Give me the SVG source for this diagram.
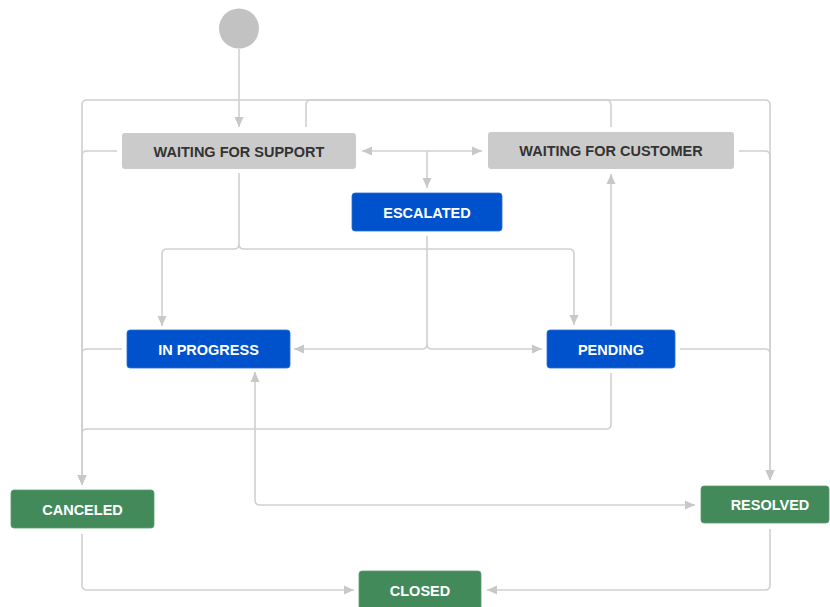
<svg xmlns="http://www.w3.org/2000/svg" width="830" height="607" viewBox="0 0 830 607">
<style>
  .bg{fill:#ffffff}
  .conn{fill:none;stroke:#d0d0d0;stroke-width:1.6}
  .gray rect{fill:#cbcbcb}
  .blue rect{fill:#0052cc;stroke:#2a6fd8;stroke-width:0.8}
  .green rect{fill:#438a5b;stroke:#5a9c70;stroke-width:0.8}
  text{font-family:"Liberation Sans",Arial,sans-serif;font-weight:bold;font-size:14.5px;text-anchor:middle}
  .gray text{fill:#333333}
  .blue text,.green text{fill:#ffffff}
</style>
<defs>
  <marker id="ah" viewBox="0 0 10 10" refX="10" refY="5" markerWidth="10" markerHeight="10" markerUnits="userSpaceOnUse" orient="auto-start-reverse">
    <path d="M0,0.5 L10,5 L0,9.5 z" fill="#c8c8c8"/>
  </marker>
</defs>
<rect class="bg" x="0" y="0" width="830" height="607"/>
<g id="connectors">
  <path class="conn" d="M239,49 L239,127" marker-end="url(#ah)"/>
  <path class="conn" d="M362,151 L482,151" marker-start="url(#ah)" marker-end="url(#ah)"/>
  <path class="conn" d="M427,151 L427,188" marker-end="url(#ah)"/>
  <path class="conn" d="M239,173 L239,244 Q239,249 234,249 L167,249 Q162,249 162,254 L162,326" marker-end="url(#ah)"/>
  <path class="conn" d="M239,244 Q239,249 244,249 L569,249 Q574,249 574,254 L574,325" marker-end="url(#ah)"/>
  <path class="conn" d="M427,236 L427,344 Q427,349 422,349 L294,349" marker-end="url(#ah)"/>
  <path class="conn" d="M427,344 Q427,349 432,349 L542,349" marker-end="url(#ah)"/>
  <path class="conn" d="M611,326 L611,174" marker-end="url(#ah)"/>
  <path class="conn" d="M611,373 L611,424 Q611,429 606,429 L87,429 Q82,429 82,434 L82,485" marker-end="url(#ah)"/>
  <path class="conn" d="M122,349 L87,349 Q82,349 82,354 L82,485" marker-end="url(#ah)"/>
  <path class="conn" d="M117,151 L87,151 Q82,151 82,156 L82,485" marker-end="url(#ah)"/>
  <path class="conn" d="M611,127 L611,105 Q611,100 606,100 L87,100 Q82,100 82,105 L82,485" marker-end="url(#ah)"/>
  <path class="conn" d="M306,127 L306,105 Q306,100 311,100 L765,100 Q770,100 770,105 L770,480" marker-end="url(#ah)"/>
  <path class="conn" d="M739,151 L765,151 Q770,151 770,156 L770,480" marker-end="url(#ah)"/>
  <path class="conn" d="M680,349 L765,349 Q770,349 770,354 L770,480" marker-end="url(#ah)"/>
  <path class="conn" d="M255,372 L255,500 Q255,505 260,505 L695,505" marker-start="url(#ah)" marker-end="url(#ah)"/>
  <path class="conn" d="M82,534 L82,585 Q82,590 87,590 L354,590" marker-end="url(#ah)"/>
  <path class="conn" d="M770,529 L770,585 Q770,590 765,590 L487,590" marker-end="url(#ah)"/>
</g>
<g id="start"><circle cx="239" cy="28.5" r="20" fill="#c2c2c2"/></g>
<g id="waiting-for-support" class="gray"><rect x="122" y="133" width="234" height="36" rx="3"/><text x="239" y="156.5">WAITING FOR SUPPORT</text></g>
<g id="waiting-for-customer" class="gray"><rect x="488" y="132" width="246" height="37" rx="3"/><text x="611" y="156">WAITING FOR CUSTOMER</text></g>
<g id="escalated" class="blue"><rect x="352" y="193" width="150" height="38" rx="3"/><text x="427" y="217.5">ESCALATED</text></g>
<g id="in-progress" class="blue"><rect x="127" y="330" width="163" height="38" rx="3"/><text x="208.5" y="355">IN PROGRESS</text></g>
<g id="pending" class="blue"><rect x="547" y="330" width="128" height="38" rx="3"/><text x="611" y="355">PENDING</text></g>
<g id="canceled" class="green"><rect x="11" y="490" width="143" height="38" rx="3"/><text x="82.5" y="514.5">CANCELED</text></g>
<g id="resolved" class="green"><rect x="701" y="486" width="128" height="37" rx="3"/><text x="770" y="510">RESOLVED</text></g>
<g id="closed" class="green"><rect x="359" y="571" width="122" height="40" rx="3"/><text x="420" y="595.5">CLOSED</text></g>
</svg>
